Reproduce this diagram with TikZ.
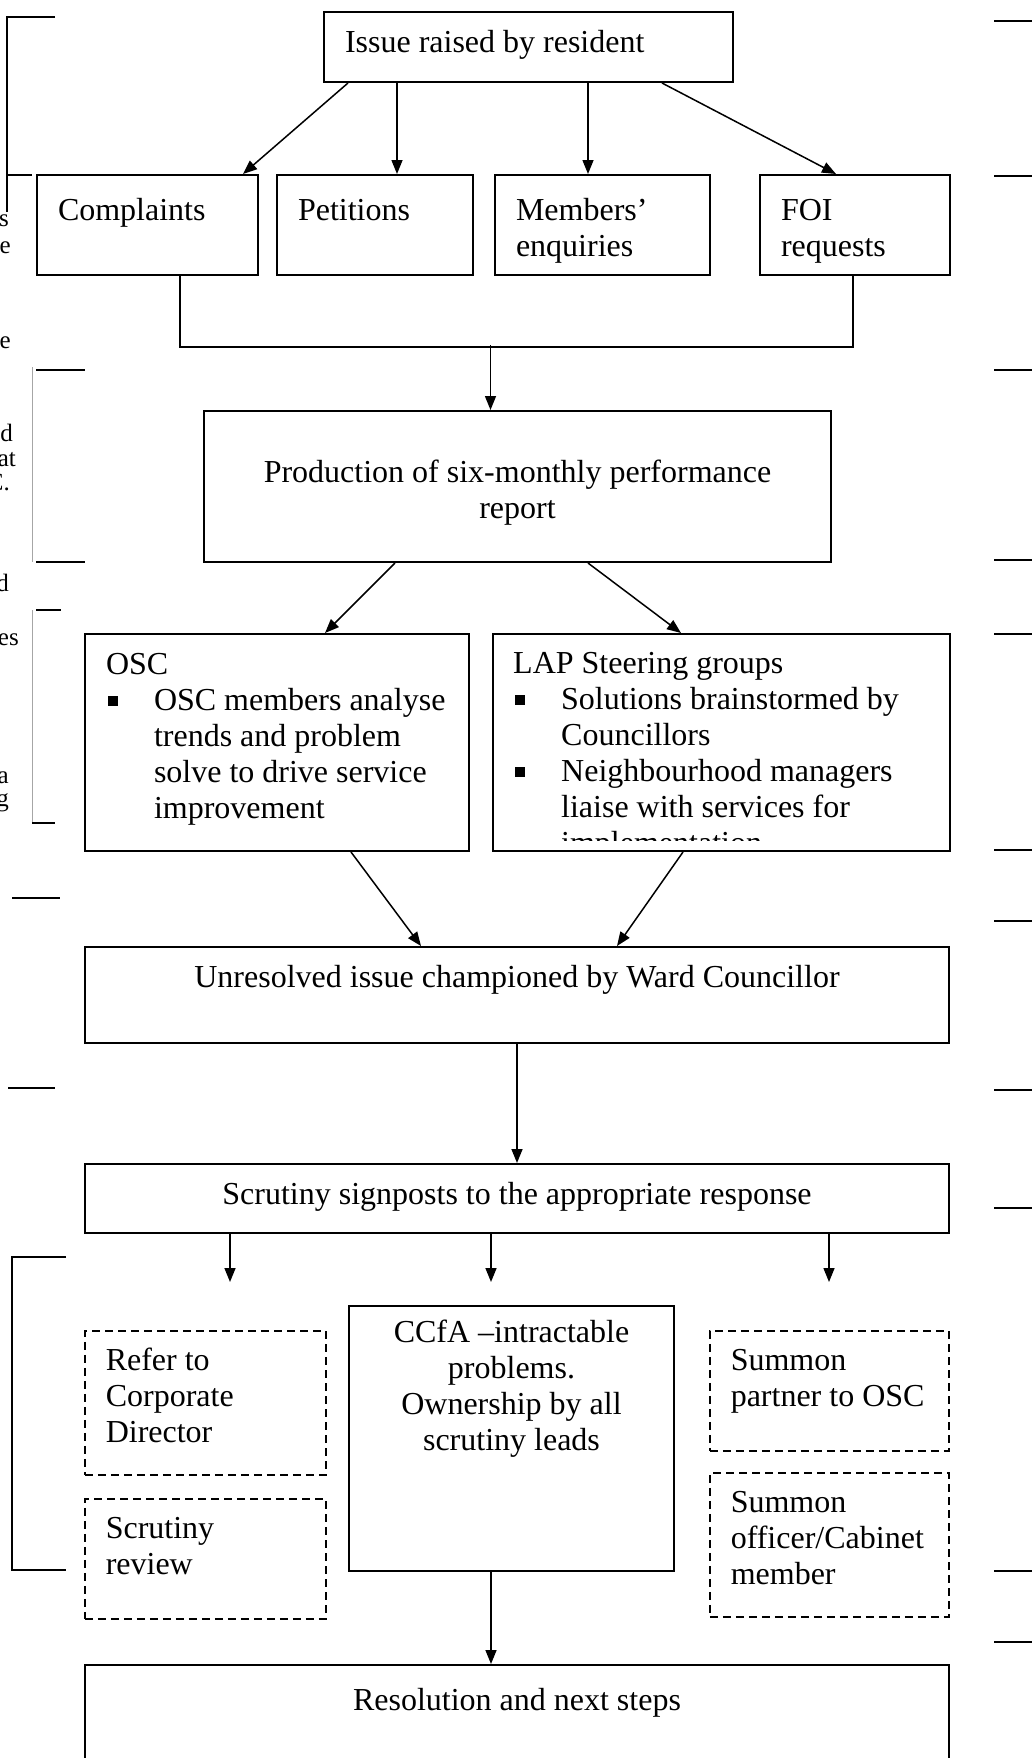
\documentclass[tikz,border=0pt]{standalone}
\usepackage{fontspec}
\setmainfont{Liberation Serif}
\usetikzlibrary{arrows.meta}

% text block of a box: outer width, outer height (pt), alignment, text
\newcommand{\boxtxt}[5][t]{\parbox[t][\dimexpr#3pt-30pt\relax][#1]{\dimexpr#2pt-42pt\relax}{#4\strut#5}}
\newcommand{\tallstrut}[1]{\rule{0pt}{#1}}
\newcommand{\sqb}{\makebox[48pt][l]{\hspace{2pt}\rule[4pt]{10pt}{10pt}}}
\newcommand{\subln}{\hspace*{48pt}}

\tikzset{
  panel/.style={draw, line width=2pt, anchor=north west, inner xsep=21pt, inner ysep=15pt},
  dpanel/.style={panel, line width=1.5pt, dash pattern=on 8pt off 5pt},
  arr/.style={-{Triangle[length=14pt,width=11pt]}, line width=1.5pt},
  link/.style={line width=1.5pt},
  margin/.style={line width=2pt},
  faint/.style={line width=1pt, draw=black!35},
  frag/.style={font=\fontsize{25}{28}\selectfont, inner sep=0pt, anchor=base east},
}

\begin{document}
\begin{tikzpicture}[x=1pt, y=-1pt, font=\fontsize{32}{36}\selectfont]
  \useasboundingbox (0,0) rectangle (1032,1758);
  \clip (0,0) rectangle (1032,1758);

  % marks along the left and right margins
  \draw[margin] (55,17) -- (7,17) -- (7,212);
  \draw[margin] (7,175) -- (32,175);
  \draw[faint] (32,367) -- (32,562);
  \draw[margin] (36,370) -- (85,370);
  \draw[margin] (36,562) -- (85,562);
  \draw[faint] (32,610) -- (32,823);
  \draw[margin] (36,610) -- (61,610);
  \draw[margin] (32,823) -- (55,823);
  \draw[margin] (12,898) -- (60,898);
  \draw[margin] (8,1088) -- (55,1088);
  \draw[margin] (66,1257) -- (12,1257) -- (12,1570) -- (66,1570);
  \foreach \y in {21,176,370,560,634,850,921,1090,1208,1571,1642}
    \draw[margin] (994,\y) -- (1032,\y);
  \foreach \fx/\fy/\ft [count=\i] in {9/226/s, 11/253/e, 11/348/e, 13/441/nd, 16/466/at,
      10/490/C., 9/591/d, 19/645/es, 9/783/a, 9/806/g}
    \node[frag] (frag\i) at (\fx,\fy) {\ft};

  % boxes
  \node[panel] (issue) at (323,11) {\boxtxt{409}{70}{\raggedright}{Issue raised by resident}};
  \node[panel] (compl) at (36,174) {\boxtxt{221}{100}{\raggedright\tallstrut{30pt}}{Complaints}};
  \node[panel] (petit) at (276,174) {\boxtxt{196}{100}{\raggedright\tallstrut{30pt}}{Petitions}};
  \node[panel] (membr) at (494,174) {\boxtxt{215}{100}{\raggedright\tallstrut{30pt}}{Members'\\enquiries}};
  \node[panel] (foi) at (759,174) {\boxtxt{190}{100}{\raggedright\tallstrut{30pt}}{FOI\\requests}};
  \node[panel] (prod) at (203,410)
    {\boxtxt[c]{627}{151}{\centering\tallstrut{34pt}}{Production of six-monthly performance\\report}};
  \node[panel] (osc) at (84,633) {\boxtxt{384}{217}{\raggedright}{OSC\\
    \sqb OSC members analyse\\\subln trends and problem\\
    \subln solve to drive service\\\subln improvement}};
  \node[panel, inner sep=0pt, minimum width=457pt, minimum height=217pt] (lap) at (492,633) {};
  \begin{scope}
    \clip (lap.north west) rectangle ([yshift=12pt]lap.south east);
    \node[anchor=north west, inner xsep=21pt, inner ysep=15pt] (lap-t) at (lap.north west)
      {\boxtxt{457}{217}{\raggedright}{LAP Steering groups\\
      \sqb Solutions brainstormed by\\\subln Councillors\\
      \sqb Neighbourhood managers\\\subln liaise with services for\\\subln implementation}};
  \end{scope}
  \node[panel] (unres) at (84,946)
    {\boxtxt{864}{96}{\centering}{Unresolved issue championed by Ward Councillor}};
  \node[panel] (scrut) at (84,1163)
    {\boxtxt{864}{69}{\centering}{Scrutiny signposts to the appropriate response}};
  \node[dpanel] (refer) at (84,1330) {\boxtxt{241}{144}{\raggedright}{Refer to\\Corporate\\Director}};
  \node[dpanel] (review) at (84,1498) {\boxtxt{241}{120}{\raggedright}{Scrutiny\\review}};
  \node[panel, inner ysep=11pt] (ccfa) at (348,1305)
    {\boxtxt{325}{273}{\centering}{CCfA --intractable\\problems.\\Ownership by all\\scrutiny leads}};
  \node[dpanel] (partner) at (709,1330) {\boxtxt{239}{120}{\raggedright}{Summon\\partner to OSC}};
  \node[dpanel] (officer) at (709,1472) {\boxtxt{239}{144}{\raggedright}{Summon\\officer/Cabinet\\member}};
  \node[panel] (resol) at (84,1664) {\boxtxt{864}{130}{\centering\tallstrut{30pt}}{Resolution and next steps}};

  % connectors
  \draw[arr] ([xshift=25pt]issue.south west) -- ([xshift=-16pt]compl.north east);
  \draw[arr] ([xshift=74pt]issue.south west) -- ([xshift=121pt]petit.north west);
  \draw[arr] ([xshift=265pt]issue.south west) -- ([xshift=94pt]membr.north west);
  \draw[arr] ([xshift=339pt]issue.south west) -- ([xshift=77pt]foi.north west);
  \coordinate (join) at (490.5,345);
  \draw[link] ([xshift=144pt]compl.south west) -- ++(0,71) -| ([xshift=94pt]foi.south west);
  \draw[arr] (join) -- (join |- prod.north);
  \draw[arr] ([xshift=192pt]prod.south west) -- ([xshift=241pt]osc.north west);
  \draw[arr] ([xshift=385pt]prod.south west) -- ([xshift=189pt]lap.north west);
  \draw[arr] ([xshift=267pt]osc.south west) -- ([xshift=337pt]unres.north west);
  \draw[arr] ([xshift=191pt]lap.south west) -- ([xshift=533pt]unres.north west);
  \draw[arr] (unres.south) -- (scrut.north);
  \coordinate (tip1) at (230,1282);
  \coordinate (tip2) at (491,1282);
  \coordinate (tip3) at (829,1282);
  \foreach \t in {tip1,tip2,tip3}
    \draw[arr] (scrut.south -| \t) -- (\t);
  \draw[arr] ([xshift=143pt]ccfa.south west) -- ([xshift=407pt]resol.north west);
\end{tikzpicture}
\end{document}
